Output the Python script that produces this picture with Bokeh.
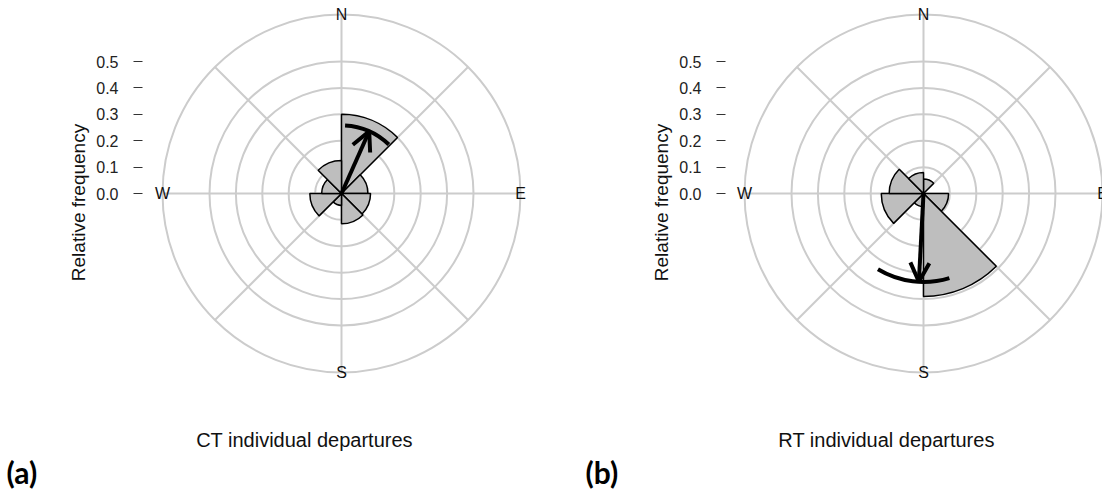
import numpy as np
from bokeh.plotting import figure
from bokeh.layouts import row
from bokeh.models import Range1d, FixedTicker, Label, Arrow, OpenHead, ColumnDataSource, LinearAxis
from bokeh.core.properties import value
from bokeh.embed import file_html
from bokeh.resources import INLINE

# ---------------- data ----------------
bin_start_deg = [0, 45, 90, 135, 180, 225, 270, 315]   # bearing, clockwise from N
bin_width_deg = 45
ct_freq = [0.30, 0.10, 0.11, 0.115, 0.045, 0.12, 0.075, 0.125]
rt_freq = [0.055, 0.0, 0.095, 0.39, 0.05, 0.16, 0.13, 0.08]

ct_mean_dir = 24.0
ct_rho = 0.258
ct_ci = [3.0, 44.0]
rt_mean_dir = 183.0
rt_rho = 0.335
rt_ci = [163.0, 211.0]

ring_levels = [0.1, 0.2, 0.3, 0.4, 0.5]
outer_radius = 0.678
spoke_bearings = [0, 45, 90, 135, 180, 225, 270, 315]
compass_labels = ["N", "E", "S", "W"]
compass_bearings = [0, 90, 180, 270]
y_ticks = [0.0, 0.1, 0.2, 0.3, 0.4, 0.5]
y_label = "Relative frequency"
panel_titles = ["CT individual departures", "RT individual departures"]
panel_tags = ["(a)", "(b)"]

# ---------------- layout constants ----------------
PX = 264.0          # pixels per unit of relative frequency
H = 495
CY = 193            # circle centre, screen y
FONT = "Liberation Sans"
GRID = "#cccccc"
BAR = "#bebebe"


def bearing_to_math(b):
    return np.deg2rad(90.0 - np.asarray(b, dtype=float))


def make_panel(width, cx, freq, mean_dir, rho, ci, title, tag, tag_x):
    p = figure(width=width, height=H, output_backend="svg", toolbar_location=None,
               x_axis_type=None, y_axis_location=None,
               min_border_left=0, min_border_right=0,
               min_border_top=0, min_border_bottom=0,
               x_range=Range1d(-cx / PX, (width - cx) / PX),
               y_range=Range1d((CY - H) / PX, CY / PX))
    p.outline_line_color = None
    p.background_fill_color = "white"
    p.border_fill_color = "white"
    for g in p.grid:
        g.visible = False

    ax = LinearAxis(fixed_location=(142 - cx) / PX)
    ax.ticker = FixedTicker(ticks=y_ticks)
    ax.major_label_overrides = {t: f"{t:.1f}" for t in y_ticks}
    ax.axis_line_color = None
    ax.major_tick_in = 0
    ax.major_tick_out = 9
    ax.major_tick_line_color = "#333333"
    ax.major_tick_line_width = 1
    ax.minor_tick_line_color = None
    ax.major_label_standoff = 15
    ax.major_label_text_font = FONT
    ax.major_label_text_font_size = "16px"
    ax.major_label_text_color = "#222222"
    p.add_layout(ax, "left")

    # spokes and rings
    sb = bearing_to_math(spoke_bearings)
    p.segment(x0=0, y0=0, x1=outer_radius * np.cos(sb), y1=outer_radius * np.sin(sb),
              line_color=GRID, line_width=2)
    p.circle(x=[0] * len(ring_levels), y=[0] * len(ring_levels), radius=ring_levels,
             fill_color=None, line_color=GRID, line_width=2)
    p.circle(x=[0], y=[0], radius=[outer_radius], fill_color=None, line_color=GRID, line_width=2)

    # rose bars
    starts = np.asarray(bin_start_deg, dtype=float)
    src = ColumnDataSource(dict(
        r=freq,
        a0=bearing_to_math(starts + bin_width_deg),
        a1=bearing_to_math(starts),
    ))
    p.wedge(x=0, y=0, radius="r", start_angle="a0", end_angle="a1", source=src,
            direction="anticlock", fill_color=BAR, line_color="black", line_width=1.5)

    # confidence arc and mean vector
    p.arc(x=0, y=0, radius=rho, start_angle=float(bearing_to_math(ci[1])),
          end_angle=float(bearing_to_math(ci[0])), direction="anticlock",
          line_color="black", line_width=4)
    m = float(bearing_to_math(mean_dir))
    p.add_layout(Arrow(x_start=0, y_start=0, x_end=rho * np.cos(m), y_end=rho * np.sin(m),
                       line_color="black", line_width=4,
                       end=OpenHead(size=19, line_color="black", line_width=4)))

    # compass labels
    cb = bearing_to_math(compass_bearings)
    p.text(x=outer_radius * np.cos(cb), y=outer_radius * np.sin(cb), text=compass_labels,
           text_align="center", text_baseline="middle", text_font=value(FONT),
           text_font_size="16px", text_color="#111111")

    # y label, x label and tag
    p.add_layout(Label(x=(78 - cx) / PX, y=(CY - 202) / PX, text=y_label, angle=np.pi / 2,
                       text_align="center", text_baseline="middle", text_font=FONT,
                       text_font_size="19px", text_color="#111111"))
    p.add_layout(Label(x=-0.14, y=(CY - 439) / PX, text=title, text_align="center",
                       text_baseline="middle", text_font=FONT, text_font_size="20px",
                       text_color="#111111"))
    p.add_layout(Label(x=(tag_x - cx) / PX, y=(CY - 471) / PX, text=tag, text_align="left",
                       text_baseline="middle", text_font="Lato", text_font_style="bold",
                       text_font_size="30px", text_color="black"))
    return p


pa = make_panel(583, 341, ct_freq, ct_mean_dir, ct_rho, ct_ci, panel_titles[0], panel_tags[0], 6)
pb = make_panel(519, 340, rt_freq, rt_mean_dir, rt_rho, rt_ci, panel_titles[1], panel_tags[1], 2)

layout = row(pa, pb, spacing=0)
open("out.html", "w").write(file_html(layout, INLINE))
